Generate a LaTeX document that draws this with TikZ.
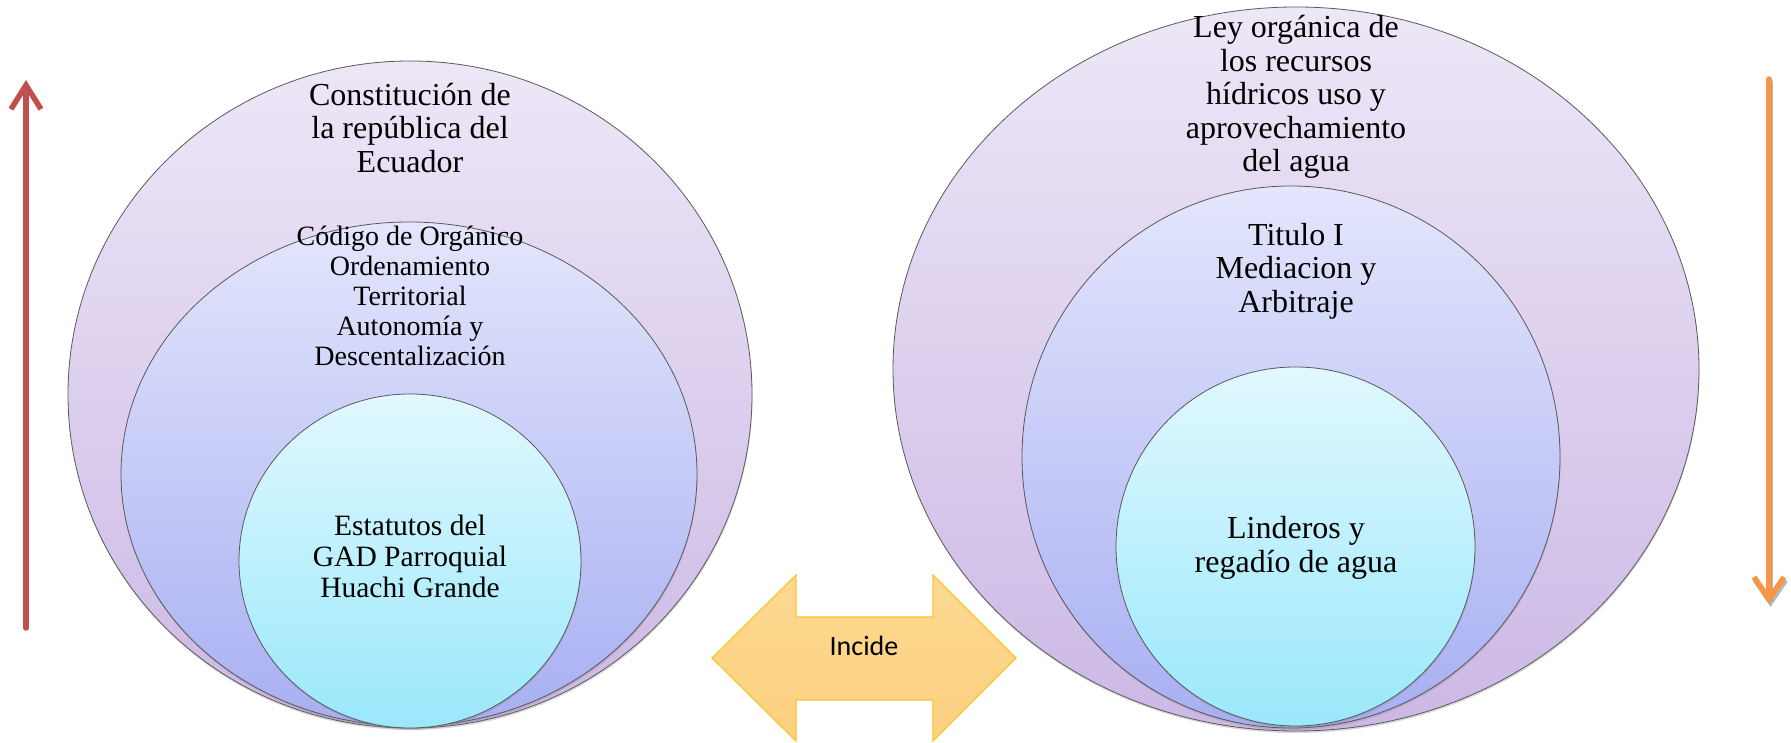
\documentclass[tikz,border=0pt]{standalone}
\usepackage{fontspec}
\setmainfont{Liberation Serif}
\newfontfamily\calibri{Carlito}
\usetikzlibrary{shapes}
\usetikzlibrary{positioning}
\usetikzlibrary{arrows.meta}
\usetikzlibrary{shadows}

\definecolor{lilatop}{RGB}{237,231,247}
\definecolor{lilabot}{RGB}{204,184,229}
\definecolor{azultop}{RGB}{227,230,252}
\definecolor{azulbot}{RGB}{168,175,242}
\definecolor{celtop}{RGB}{225,248,254}
\definecolor{celbot}{RGB}{154,232,251}
\definecolor{rojo}{RGB}{192,80,77}
\definecolor{naranja}{RGB}{247,150,70}
\definecolor{oro}{RGB}{255,196,45}
\definecolor{durtop}{RGB}{253,217,146}
\definecolor{durbot}{RGB}{252,209,128}

\begin{document}
\begin{tikzpicture}[
    x=1pt, y=1pt
]
\tikzset{
    anillo/.style = {ellipse, draw=black!65, line width=0.8pt, inner sep=0pt,
        drop shadow={shadow xshift=0.5pt, shadow yshift=-2pt, opacity=0.3}},
    anilloa/.style = {anillo, top color=lilatop, bottom color=lilabot},
    anillob/.style = {anillo, top color=azultop, bottom color=azulbot},
    anilloc/.style = {anillo, top color=celtop, bottom color=celbot},
    texto/.style = {align=center, inner sep=0pt, font=\fontsize{32}{33.5}\selectfont},
    textop/.style = {align=center, inner sep=0pt, font=\fontsize{28}{30}\selectfont},
    flechar/.style = {-{Straight Barb[length=24pt, width=30pt]}, line width=5.5pt, rojo, line cap=round, line join=round},
    flechan/.style = {-{Straight Barb[length=22pt, width=30pt]}, line width=5.5pt, naranja, line cap=round, line join=round},
    doble/.style = {draw=oro, line width=1.2pt, top color=durtop, bottom color=durbot}
}
\useasboundingbox (0,0) rectangle (1791,742);

% izquierda
\node[anilloa, minimum width=684, minimum height=667] at (410,347.5) (ia) {};
\node[anillob, minimum width=576, minimum height=504] at (409,268) (ib) {};
\node[anilloc, minimum width=342, minimum height=334] at (410,181) (ic) {};
\node[texto] at (410,614) (tia) {Constitución de\\la república del\\Ecuador};
\node[textop] at (410,446) (tib) {Código de Orgánico\\Ordenamiento\\Territorial\\Autonomía y\\Descentalización};
\node[texto, font=\fontsize{29.5}{31}\selectfont] at (410,186) (tic) {Estatutos del\\GAD Parroquial\\Huachi Grande};

% derecha
\node[anilloa, minimum width=806, minimum height=724] at (1296,373) (da) {};
\node[anillob, minimum width=538, minimum height=542] at (1291,285) (db) {};
\node[anilloc, minimum width=359, minimum height=359] at (1295.5,195.5) (dc) {};
\node[texto] at (1296,645) (tda) {Ley orgánica de\\los recursos\\hídricos uso y\\aprovechamiento\\del agua};
\node[texto] at (1296,471) (tdb) {Titulo I\\Mediacion y\\Arbitraje};
\node[texto] at (1296,194) (tdc) {Linderos y\\regadío de agua};

% flecha doble
\draw[doble] (712,84) -- (796,167) -- (796,125) -- (933,125) -- (933,167) -- (1016,84)
    -- (933,1) -- (933,42) -- (796,42) -- (796,1) -- cycle;
\node[font=\calibri\fontsize{28}{30}\selectfont] at (864,96) (incide) {Incide};

% flechas laterales
\coordinate (rabajo) at (26,114);
\coordinate (rarriba) at (26,662);
\draw[flechar] (rabajo) -- (rarriba);
\coordinate (narriba) at (1769,663);
\coordinate (nabajo) at (1769,138);
\draw[flechan, black!40, opacity=0.7, transform canvas={xshift=1.5pt, yshift=-3pt}] (narriba) -- (nabajo);
\draw[flechan] (narriba) -- (nabajo);
\end{tikzpicture}
\end{document}
